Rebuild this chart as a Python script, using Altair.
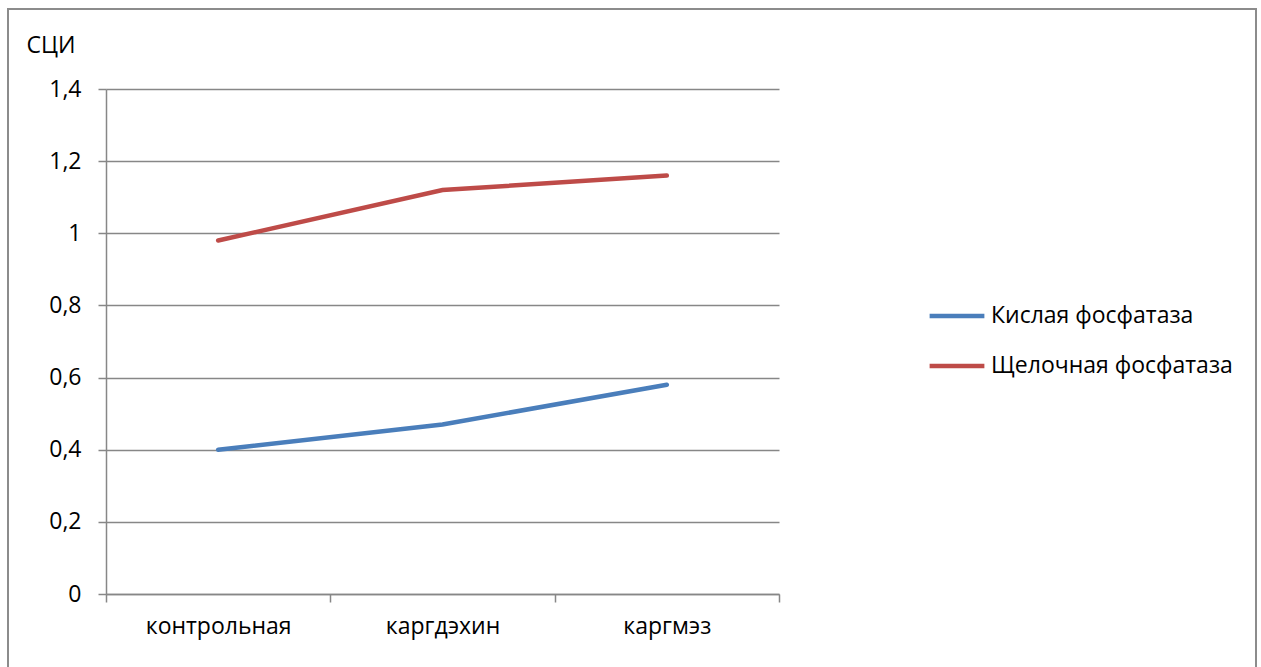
import altair as alt
import pandas as pd

# Categories and series values (СЦИ index)
groups = ["контрольная", "каргдэхин", "каргмэз"]
acid_phosphatase = [0.40, 0.47, 0.58]
alkaline_phosphatase = [0.98, 1.12, 1.16]
series_names = ["Кислая фосфатаза", "Щелочная фосфатаза"]
y_ticks = [0, 0.2, 0.4, 0.6, 0.8, 1.0, 1.2, 1.4]

rows = []
for name, vals in zip(series_names, [acid_phosphatase, alkaline_phosphatase]):
    for g, v in zip(groups, vals):
        rows.append({"group": g, "value": v, "series": name})
df = pd.DataFrame(rows)

FONT = "Open Sans"
FS = 23
GRID = "#878787"
W, H = 673, 505
LEFT, TOP = 106, 89

lines = alt.Chart(df).mark_line(strokeWidth=4.5, strokeCap="round").encode(
    x=alt.X(
        "group:N",
        sort=groups,
        bandPosition=0.5,
        scale=alt.Scale(type="band", paddingInner=0, paddingOuter=0),
        axis=alt.Axis(
            title=None,
            labelAngle=0,
            tickBand="extent",
            tickSize=8,
            tickColor=GRID,
            tickWidth=1.5,
            domainColor=GRID,
            domainWidth=1.5,
            labelPadding=13,
            labelFontSize=FS,
            labelFont=FONT,
            labelColor="#000000",
            grid=False,
        ),
    ),
    y=alt.Y(
        "value:Q",
        scale=alt.Scale(domain=[0, 1.4], nice=False),
        axis=alt.Axis(
            values=y_ticks,
            labelExpr="replace(format(datum.value, '~g'), '.', ',')",
            title="СЦИ",
            titleAngle=0,
            titleAlign="left",
            titleBaseline="middle",
            titleX=-80,
            titleY=-44,
            titleFont=FONT,
            titleFontSize=FS,
            titleFontWeight="normal",
            titleColor="#000000",
            tickSize=8,
            tickColor=GRID,
            tickWidth=1.5,
            domainColor=GRID,
            domainWidth=1.5,
            gridColor=GRID,
            gridWidth=1.5,
            gridOpacity=1,
            labelPadding=17,
            labelFontSize=FS,
            labelFont=FONT,
            labelColor="#000000",
        ),
    ),
    color=alt.Color(
        "series:N",
        scale=alt.Scale(domain=series_names, range=["#4A7EBB", "#BE4B48"]),
        legend=alt.Legend(
            title=None,
            orient="none",
            legendX=821,
            legendY=197,
            symbolType="stroke",
            symbolSize=3000,
            symbolStrokeWidth=4.5,
            labelFont=FONT,
            labelFontSize=FS,
            labelColor="#000000",
            labelOffset=4,
            labelLimit=400,
            rowPadding=8,
        ),
    ),
)

# Outer chart frame
frame = alt.Chart(pd.DataFrame({"k": [0]})).mark_rect(
    fill=None, stroke="#8c8c8c", strokeWidth=2
).encode(
    x=alt.value(-98), x2=alt.value(1150), y=alt.value(-80), y2=alt.value(700)
)

chart = alt.layer(frame, lines).properties(
    width=W,
    height=H,
    autosize=alt.AutoSizeParams(type="none"),
    padding={"left": LEFT, "top": TOP, "right": 1261 - LEFT - W, "bottom": 667 - TOP - H},
    background="white",
).configure_view(stroke=None)

chart.save("out.html", embed_options={"renderer": "svg", "actions": False})
